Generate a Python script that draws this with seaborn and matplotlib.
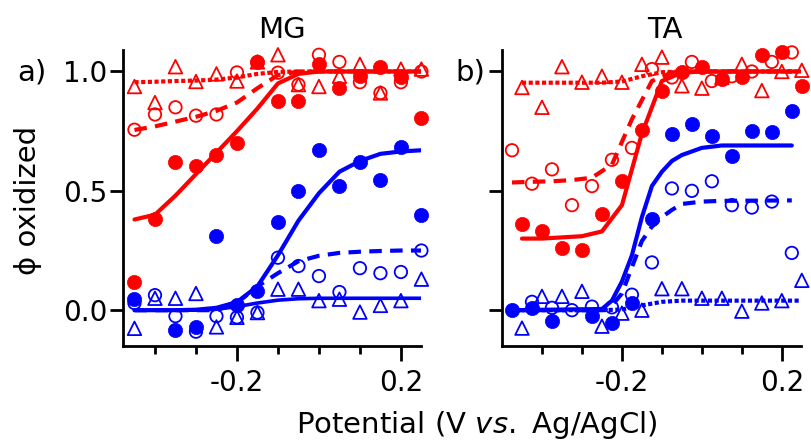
import numpy as np
import matplotlib
matplotlib.use("Agg")
import matplotlib.pyplot as plt
from matplotlib.ticker import FixedLocator
import seaborn as sns

# ---------------- data ----------------
# MG panel: potentials (V vs. Ag/AgCl)
mg_pot = [-0.45, -0.40, -0.35, -0.30, -0.25, -0.20, -0.15, -0.10,
          -0.05, 0.00, 0.05, 0.10, 0.15, 0.20, 0.25]
mg_red_fill = [0.12, 0.38, 0.62, 0.605, 0.65, 0.70, 1.04, 0.875,
               0.875, 1.03, 0.93, 0.98, 1.02, 0.975, 0.805]
mg_red_open = [0.756, 0.82, 0.85, 0.815, 0.82, 0.996, 1.04, 0.995,
               0.945, 1.07, 1.04, 0.955, 0.91, 0.955, 1.0]
mg_red_tri = [0.937, 0.87, 1.02, 0.958, 0.99, 0.96, 1.04, 1.07,
              0.945, 0.937, 0.98, 1.03, 0.91, 1.01, 1.01]
mg_blue_fill = [0.046, np.nan, -0.084, -0.07, 0.31, 0.02, 0.08, 0.37,
                0.50, 0.67, 0.52, 0.62, 0.546, 0.685, 0.40]
mg_blue_open = [0.03, 0.063, -0.025, -0.09, -0.025, -0.03, -0.01, 0.22,
                0.185, 0.143, 0.076, 0.176, 0.155, 0.16, 0.25]
mg_blue_tri = [-0.076, 0.05, 0.05, 0.07, -0.07, -0.03, -0.01, 0.088,
               0.088, 0.04, 0.046, -0.008, 0.02, 0.04, 0.13]
# MG fitted curves
mg_red_solid = [0.38, 0.40, 0.48, 0.57, 0.66, 0.75, 0.845, 0.95,
                0.99, 1.0, 1.0, 1.0, 1.0, 1.0, 1.0]
mg_red_dash = [0.755, 0.77, 0.79, 0.81, 0.835, 0.87, 0.93, 0.985,
               1.0, 1.0, 1.0, 1.0, 1.0, 1.0, 1.0]
mg_red_dot = [0.955, 0.957, 0.96, 0.962, 0.966, 0.975, 0.99, 0.998,
              1.0, 1.0, 1.0, 1.0, 1.0, 1.0, 1.0]
mg_blue_solid = [0.0, 0.0, 0.0, 0.002, 0.01, 0.034, 0.10, 0.23,
                 0.375, 0.49, 0.58, 0.625, 0.655, 0.665, 0.67]
mg_blue_dash = [0.0, 0.0, 0.0, 0.0, 0.0, 0.03, 0.10, 0.155,
                0.205, 0.228, 0.24, 0.245, 0.248, 0.25, 0.25]
mg_blue_low = [0.0, 0.0, 0.0, 0.0, 0.004, 0.015, 0.03, 0.042,
               0.048, 0.05, 0.05, 0.05, 0.05, 0.05, 0.05]

# TA panel: two interleaved potential grids
ta_pot_a = [-0.45, -0.40, -0.35, -0.30, -0.25, -0.20, -0.15, -0.10,
            -0.05, 0.00, 0.05, 0.10, 0.15, 0.20, 0.25]
ta_pot_b = [-0.475, -0.425, -0.375, -0.325, -0.275, -0.225, -0.175, -0.125,
            -0.075, -0.025, 0.025, 0.075, 0.125, 0.175, 0.225]
ta_red_fill = [0.3625, 0.33, 0.26, 0.254, 0.404, 0.54, 0.754, 0.917,
               0.996, 1.02, 0.967, 0.975, 1.07, 1.08, 0.9375]
ta_red_tri = [0.933, 0.85, 1.02, 0.955, 0.98, 0.955, 1.03, 1.06,
              0.94, 0.93, 0.975, 1.03, 0.92, 1.0, 1.005]
ta_blue_tri = [-0.075, 0.058, 0.058, 0.079, -0.067, -0.0125, 0.0, 0.09,
               0.09, 0.05, 0.05, -0.004, 0.03, 0.04, 0.125]
ta_red_open = [0.67, 0.53, 0.59, 0.44, 0.52, 0.63, 0.68, 1.01,
               0.975, 1.04, 0.96, 0.98, 1.0, 1.04, 1.08]
ta_blue_fill = [0.0, 0.008, -0.046, np.nan, -0.025, -0.054, 0.03, 0.38,
                0.7375, 0.78, 0.73, 0.646, 0.75, 0.746, 0.833]
ta_blue_open = [np.nan, 0.035, 0.01, 0.0, 0.015, 0.012, 0.065, 0.20,
                0.51, 0.50, 0.54, 0.44, 0.43, 0.455, 0.24]
# TA fitted curves
ta_red_solid = [0.30, 0.30, 0.305, 0.31, 0.33, 0.44, 0.74, 0.96,
                0.995, 1.0, 1.0, 1.0, 1.0, 1.0, 1.0]
ta_red_dash = [0.535, 0.538, 0.54, 0.545, 0.555, 0.61, 0.80, 0.96,
               0.995, 1.0, 1.0, 1.0, 1.0, 1.0, 1.0]
ta_red_dot = [0.953, 0.953, 0.953, 0.953, 0.953, 0.958, 0.98, 0.997,
              1.0, 1.0, 1.0, 1.0, 1.0, 1.0, 1.0]
ta_blue_pot = [-0.475, -0.25, -0.225, -0.20, -0.175, -0.15, -0.125,
               -0.10, -0.075, -0.05, 0.0, 0.05, 0.225]
ta_blue_solid = [0.0, 0.005, 0.04, 0.12, 0.23, 0.39, 0.52,
                 0.58, 0.625, 0.65, 0.68, 0.69, 0.69]
ta_blue_dash = [0.0, 0.0, 0.02, 0.07, 0.18, 0.29, 0.35,
                0.39, 0.42, 0.445, 0.455, 0.458, 0.46]
ta_blue_dot = [0.0, 0.0, 0.0, 0.0, 0.0, 0.003, 0.02, 0.035,
               0.04, 0.04, 0.04, 0.04, 0.04, 0.04, 0.04]

x_major = [-0.2, 0.2]
x_major_labels = ["-0.2", "0.2"]
x_minor = [-0.4, -0.3, -0.1, 0.0, 0.1]
y_ticks = [0.0, 0.5, 1.0]
y_tick_labels = ["0.0", "0.5", "1.0"]

RED = "#ff0000"
BLUE = "#0000ff"

# ---------------- style ----------------
sns.set_theme(style="ticks")
plt.rcParams["font.family"] = ["DejaVu Sans"]
plt.rcParams["axes.unicode_minus"] = False
plt.rcParams["mathtext.fontset"] = "dejavusans"
for key in ("text.color", "axes.labelcolor", "xtick.color", "ytick.color",
            "axes.edgecolor", "xtick.labelcolor", "ytick.labelcolor"):
    plt.rcParams[key] = "black"

DOTTED = (0, (1.0, 0.6))
DASHED = (0, (3.0, 2.0))


def fit(ax, x, y, color, ls, lw=3.0):
    sns.lineplot(x=x, y=y, ax=ax, color=color, linestyle=ls, linewidth=lw,
                 estimator=None, errorbar=None, zorder=2)


def pts(ax, x, y, color, marker, filled):
    if filled:
        sns.scatterplot(x=x, y=y, ax=ax, color=color, marker=marker, s=105,
                        edgecolor=color, linewidth=0.5, zorder=3,
                        clip_on=False)
    else:
        size = 80 if marker == "o" else 95
        sns.scatterplot(x=x, y=y, ax=ax, color=color, marker=marker, s=size,
                        facecolor="none", edgecolor=color, linewidth=1.3,
                        zorder=3, clip_on=False)


def style_axes(ax, xlim, show_ylabels):
    ax.set_xlim(*xlim)
    ax.set_ylim(-0.15, 1.09)
    for side in ("top", "right"):
        ax.spines[side].set_visible(False)
    for side in ("left", "bottom"):
        ax.spines[side].set_linewidth(2.0)
        ax.spines[side].set_color("black")
    ax.xaxis.set_major_locator(FixedLocator(x_major))
    ax.xaxis.set_minor_locator(FixedLocator(x_minor))
    ax.set_xticklabels(x_major_labels)
    ax.set_yticks(y_ticks)
    ax.set_yticklabels(y_tick_labels if show_ylabels else [])
    ax.tick_params(axis="x", which="major", length=10.5, width=2.0,
                   labelsize=20, pad=6, color="black", labelcolor="black")
    ax.tick_params(axis="x", which="minor", length=6, width=2.0,
                   color="black")
    ax.tick_params(axis="y", which="major", length=9.5, width=2.0,
                   labelsize=20, pad=2, color="black", labelcolor="black")
    ax.set_xlabel("")
    ax.set_ylabel("")
    ax.grid(False)


fig = plt.figure(figsize=(8.11, 4.47), dpi=100)
W, H = 811, 447
ax_mg = fig.add_axes([123 / W, 1 - 346 / H, 298 / W, 296 / H])
ax_ta = fig.add_axes([502 / W, 1 - 346 / H, 299 / W, 296 / H])

# MG panel
fit(ax_mg, mg_pot, mg_red_dot, RED, DOTTED)
fit(ax_mg, mg_pot, mg_red_dash, RED, DASHED)
fit(ax_mg, mg_pot, mg_red_solid, RED, "-")
fit(ax_mg, mg_pot, mg_blue_low, BLUE, "-", lw=2.6)
fit(ax_mg, mg_pot, mg_blue_dash, BLUE, DASHED)
fit(ax_mg, mg_pot, mg_blue_solid, BLUE, "-")
pts(ax_mg, mg_pot, mg_red_tri, RED, "^", False)
pts(ax_mg, mg_pot, mg_red_open, RED, "o", False)
pts(ax_mg, mg_pot, mg_red_fill, RED, "o", True)
pts(ax_mg, mg_pot, mg_blue_tri, BLUE, "^", False)
pts(ax_mg, mg_pot, mg_blue_open, BLUE, "o", False)
pts(ax_mg, mg_pot, mg_blue_fill, BLUE, "o", True)
style_axes(ax_mg, (-0.478, 0.249), True)

# TA panel
fit(ax_ta, ta_pot_a, ta_red_dot, RED, DOTTED)
fit(ax_ta, ta_pot_b, ta_red_dash, RED, DASHED)
fit(ax_ta, ta_pot_a, ta_red_solid, RED, "-")
fit(ax_ta, ta_pot_a, ta_blue_dot, BLUE, DOTTED)
fit(ax_ta, ta_blue_pot, ta_blue_dash, BLUE, DASHED)
fit(ax_ta, ta_blue_pot, ta_blue_solid, BLUE, "-")
pts(ax_ta, ta_pot_a, ta_red_tri, RED, "^", False)
pts(ax_ta, ta_pot_b, ta_red_open, RED, "o", False)
pts(ax_ta, ta_pot_a, ta_red_fill, RED, "o", True)
pts(ax_ta, ta_pot_a, ta_blue_tri, BLUE, "^", False)
pts(ax_ta, ta_pot_b, ta_blue_open, BLUE, "o", False)
pts(ax_ta, ta_pot_b, ta_blue_fill, BLUE, "o", True)
style_axes(ax_ta, (-0.5, 0.248), False)

# titles, panel letters and shared axis labels
fig.text(282 / W, 1 - 30 / H, "MG", ha="center", va="center", fontsize=21)
fig.text(665 / W, 1 - 30 / H, "TA", ha="center", va="center", fontsize=21)
fig.text(17 / W, 1 - 72 / H, "a)", ha="left", va="center", fontsize=21)
fig.text(455 / W, 1 - 72 / H, "b)", ha="left", va="center", fontsize=21)
fig.text(477 / W, 1 - 425 / H,
         r"$\mathrm{Potential\ (V\ }\mathit{vs.}\mathrm{\ Ag/AgCl)}$",
         ha="center", va="center", fontsize=21)
fig.text(28 / W, 1 - 200 / H, "\u03d5 oxidized", ha="center", va="center",
         rotation=90, fontsize=21)

fig.savefig("out.png", dpi=100)
